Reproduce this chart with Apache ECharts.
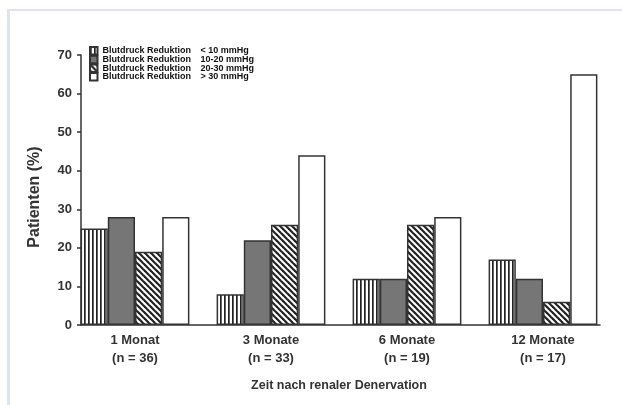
<!DOCTYPE html>
<html>
<head>
<meta charset="utf-8">
<script src="https://cdn.jsdelivr.net/npm/echarts@6/dist/echarts.min.js"></script>
<style>html,body{margin:0;padding:0;background:#fff;}#c{width:622px;height:405px;}</style>
</head>
<body>
<div id="c"></div>
<script>
const categories = ['1 Monat\n(n = 36)', '3 Monate\n(n = 33)', '6 Monate\n(n = 19)', '12 Monate\n(n = 17)'];
const seriesNames = ['< 10 mmHg', '10-20 mmHg', '20-30 mmHg', '> 30 mmHg'];
const lt10 = [25, 8, 12, 17];
const r10to20 = [28, 22, 12, 12];
const r20to30 = [19, 26, 26, 6];
const gt30 = [28, 44, 28, 65];
const yTicks = [0, 10, 20, 30, 40, 50, 60, 70];

function vPattern() {
  const c = document.createElement('canvas'); c.width = 4; c.height = 4;
  const g = c.getContext('2d');
  g.fillStyle = '#fff'; g.fillRect(0, 0, 4, 4);
  g.fillStyle = '#222'; g.fillRect(0, 0, 1.7, 4);
  return c;
}
function dPattern() {
  const s = 6;
  const c = document.createElement('canvas'); c.width = s; c.height = s;
  const g = c.getContext('2d');
  g.fillStyle = '#fff'; g.fillRect(0, 0, s, s);
  g.strokeStyle = '#222'; g.lineWidth = 2.2;
  for (let k = -1; k <= 1; k++) {
    g.beginPath(); g.moveTo(k * s - 1, -1); g.lineTo(k * s + s + 1, s + 1); g.stroke();
  }
  return c;
}
const fills = [
  { image: vPattern(), repeat: 'repeat' },
  '#767676',
  { image: dPattern(), repeat: 'repeat' },
  '#ffffff'
];
const datasets = [lt10, r10to20, r20to30, gt30];

const chart = echarts.init(document.getElementById('c'), null, { renderer: 'canvas' });
const FONT = '"Liberation Sans", Arial, sans-serif';
chart.setOption({
  animation: false,
  backgroundColor: '#fff',
  textStyle: { fontFamily: FONT },
  graphic: [
    { type: 'rect', shape: { x: 7, y: 9, width: 3, height: 400 }, style: { fill: '#e0e1f3' } },
    { type: 'rect', shape: { x: 7, y: 9, width: 620, height: 2 }, style: { fill: '#e0e1f3' } }
  ],
  legend: {
    orient: 'vertical', left: 89, top: 46, padding: 0,
    itemWidth: 7.5, itemHeight: 7.5, itemGap: -0.8,
    icon: 'rect',
    data: seriesNames,
    formatter: n => '{a|Blutdruck Reduktion}{b|' + n + '}',
    textStyle: {
      fontFamily: FONT, fontWeight: 'bold', fontSize: 9, color: '#111', lineHeight: 8.5,
      rich: {
        a: { width: 98, fontFamily: FONT, fontWeight: 'bold', fontSize: 9, color: '#111', lineHeight: 8.5 },
        b: { fontFamily: FONT, fontWeight: 'bold', fontSize: 9, color: '#111', lineHeight: 8.5 }
      }
    }
  },
  grid: [
    { left: 67, right: 11, top: 55, bottom: 80 },
    { left: 81, right: 22, top: 55, bottom: 80 }
  ],
  xAxis: [
    {
      type: 'category', gridIndex: 0, data: categories,
      axisLine: { show: false }, axisTick: { show: false },
      axisLabel: { fontFamily: FONT, fontWeight: 'bold', fontSize: 13, color: '#333', lineHeight: 18, margin: 6 },
      name: 'Zeit nach renaler Denervation', nameLocation: 'middle', nameGap: 54,
      nameTextStyle: { fontFamily: FONT, fontWeight: 'bold', fontSize: 12.5, color: '#333' }
    },
    {
      type: 'value', gridIndex: 1, min: 0, max: 1, position: 'bottom',
      axisLine: { show: true, onZero: false, lineStyle: { color: '#333', width: 1.5 } },
      axisTick: { show: false }, axisLabel: { show: false }, splitLine: { show: false }
    }
  ],
  yAxis: [
    {
      type: 'value', gridIndex: 0, min: 0, max: 70, interval: 10, offset: -14,
      axisLine: { show: true, lineStyle: { color: '#333', width: 1.5 } },
      axisTick: { show: true, inside: false, length: 4, lineStyle: { color: '#333', width: 1.5 } },
      splitLine: { show: false },
      axisLabel: { fontFamily: FONT, fontWeight: 'bold', fontSize: 13, color: '#333', margin: 9,
        formatter: v => yTicks.includes(v) ? String(v) : '' },
      name: 'Patienten (%)', nameLocation: 'middle', nameGap: 38, nameRotate: 90,
      nameTextStyle: { fontFamily: FONT, fontWeight: 'bold', fontSize: 16, color: '#333', padding: [0, 14, 0, 0] }
    },
    { type: 'value', gridIndex: 1, min: 0, max: 1, show: false }
  ],
  series: seriesNames.map((n, i) => ({
    name: n, type: 'bar', xAxisIndex: 0, yAxisIndex: 0,
    data: datasets[i],
    barGap: '0%', barCategoryGap: '20%',
    itemStyle: { color: fills[i], borderColor: '#333', borderWidth: 1.5 },
    emphasis: { disabled: true }
  }))
});
</script>
</body>
</html>
